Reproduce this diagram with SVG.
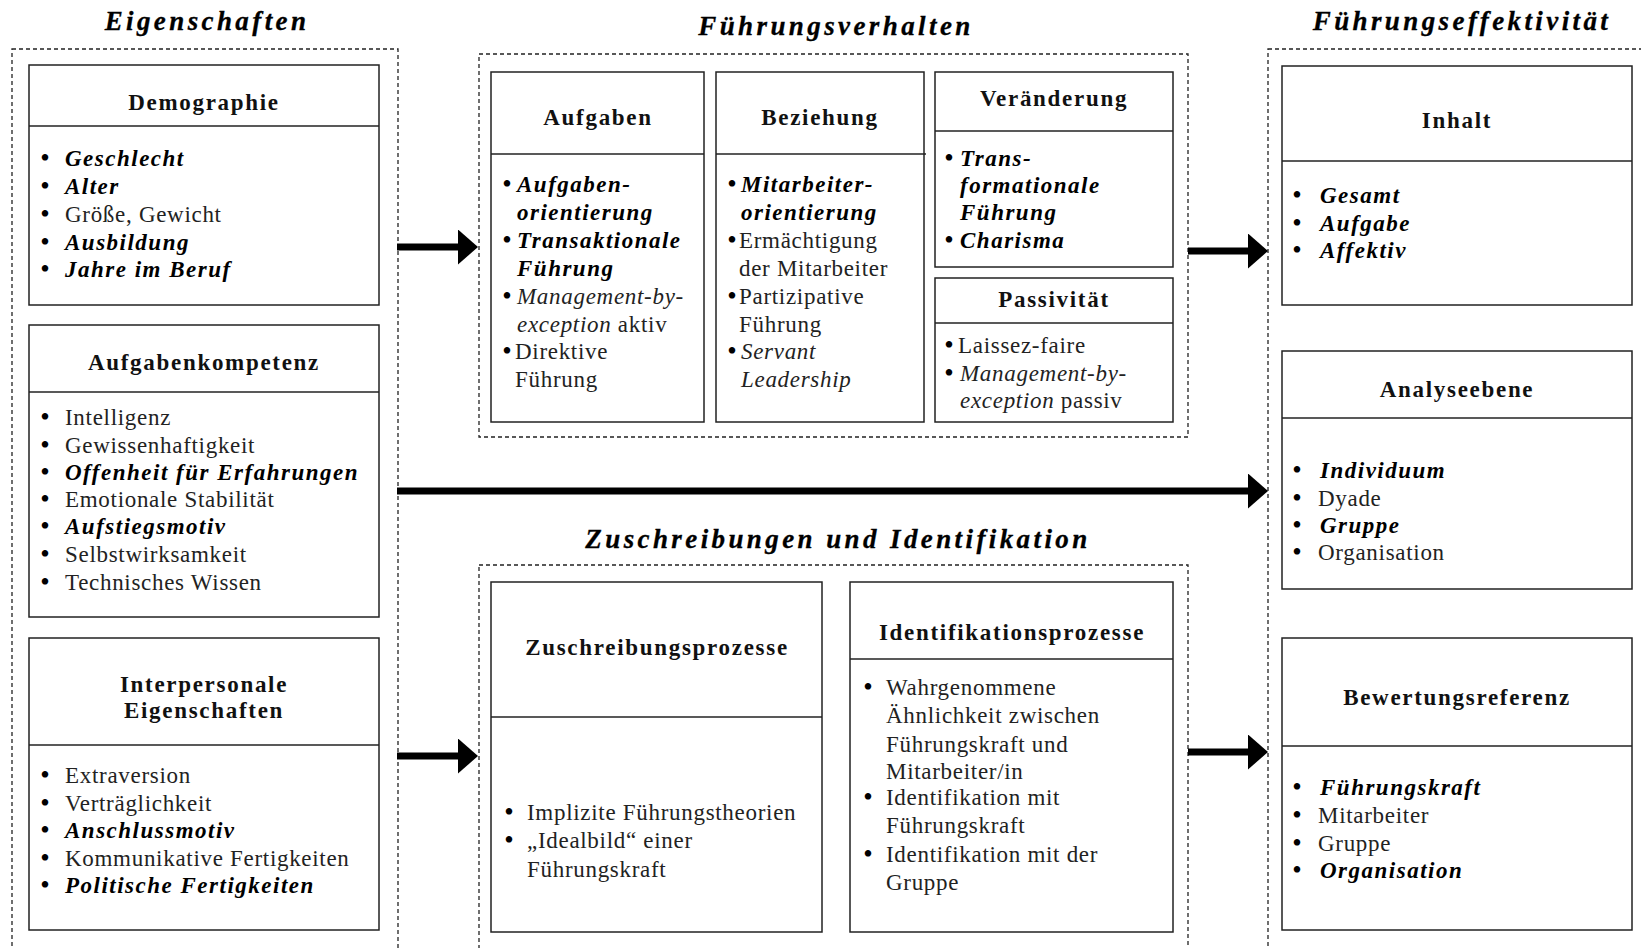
<svg xmlns="http://www.w3.org/2000/svg" width="1641" height="948" viewBox="0 0 1641 948">
<style>
  .bg { fill: #ffffff; }
  .frame { fill: none; stroke: #222; stroke-width: 1.3; stroke-dasharray: 4 3; }
  .box { fill: #ffffff; stroke: #222; stroke-width: 1.5; }
  .div { stroke: #222; stroke-width: 1.5; }
  .sec { font-family: "Liberation Serif", serif; font-size: 27px; font-weight: bold; font-style: italic; letter-spacing: 3.4px; text-anchor: middle; fill: #000; stroke: #000; stroke-width: 0.3; }
  .hd { font-family: "Liberation Serif", serif; font-size: 23px; font-weight: bold; letter-spacing: 1.7px; text-anchor: middle; fill: #111; }
  .t { font-family: "Liberation Serif", serif; font-size: 23px; letter-spacing: 0.7px; fill: #222; }
  .bi { font-weight: bold; font-style: italic; letter-spacing: 1.5px; fill: #000; }
  .i { font-style: italic; }
  .b { font-family: "Liberation Serif", serif; font-size: 27px; text-anchor: middle; fill: #000; }
  .arr { stroke: #000; stroke-width: 7; fill: none; }
</style>
<defs>
  <marker id="head" markerUnits="userSpaceOnUse" markerWidth="20" markerHeight="35" refX="0" refY="17.5" orient="auto">
    <path d="M0,0 L20,17.5 L0,35 Z" fill="#000"/>
  </marker>
</defs>
<rect class="bg" x="0" y="0" width="1641" height="948"/>

<g id="frames">
  <rect class="frame" x="12" y="49" width="386" height="920"/>
  <rect class="frame" x="479" y="54" width="709" height="383"/>
  <rect class="frame" x="479" y="565" width="709" height="400"/>
  <rect class="frame" x="1268" y="49" width="400" height="920"/>
</g>

<g id="section-titles">
  <text class="sec" x="207" y="30">Eigenschaften</text>
  <text class="sec" x="836" y="35">Führungsverhalten</text>
  <text class="sec" x="838" y="548">Zuschreibungen und Identifikation</text>
  <text class="sec" x="1462" y="30">Führungseffektivität</text>
</g>

<g id="demographie">
  <rect class="box" x="29" y="65" width="350" height="240"/>
  <line class="div" x1="29" y1="126" x2="379" y2="126"/>
  <text class="hd" x="204" y="110">Demographie</text>
  <text class="b" x="45" y="167">•</text><text class="t" x="65" y="166"><tspan class="bi">Geschlecht</tspan></text>
  <text class="b" x="45" y="195">•</text><text class="t" x="65" y="194"><tspan class="bi">Alter</tspan></text>
  <text class="b" x="45" y="223">•</text><text class="t" x="65" y="222">Größe, Gewicht</text>
  <text class="b" x="45" y="251">•</text><text class="t" x="65" y="250"><tspan class="bi">Ausbildung</tspan></text>
  <text class="b" x="45" y="278">•</text><text class="t" x="65" y="277"><tspan class="bi">Jahre im Beruf</tspan></text>
</g>

<g id="aufgabenkompetenz">
  <rect class="box" x="29" y="325" width="350" height="292"/>
  <line class="div" x1="29" y1="392" x2="379" y2="392"/>
  <text class="hd" x="204" y="370">Aufgabenkompetenz</text>
  <text class="b" x="45" y="426">•</text><text class="t" x="65" y="425">Intelligenz</text>
  <text class="b" x="45" y="453.5">•</text><text class="t" x="65" y="452.5">Gewissenhaftigkeit</text>
  <text class="b" x="45" y="481">•</text><text class="t" x="65" y="480"><tspan class="bi">Offenheit für Erfahrungen</tspan></text>
  <text class="b" x="45" y="508">•</text><text class="t" x="65" y="507">Emotionale Stabilität</text>
  <text class="b" x="45" y="535">•</text><text class="t" x="65" y="534"><tspan class="bi">Aufstiegsmotiv</tspan></text>
  <text class="b" x="45" y="563">•</text><text class="t" x="65" y="562">Selbstwirksamkeit</text>
  <text class="b" x="45" y="591">•</text><text class="t" x="65" y="590">Technisches Wissen</text>
</g>

<g id="interpersonale">
  <rect class="box" x="29" y="638" width="350" height="292"/>
  <line class="div" x1="29" y1="745" x2="379" y2="745"/>
  <text class="hd" x="204" y="692">Interpersonale</text>
  <text class="hd" x="204" y="718">Eigenschaften</text>
  <text class="b" x="45" y="784">•</text><text class="t" x="65" y="783">Extraversion</text>
  <text class="b" x="45" y="812">•</text><text class="t" x="65" y="811">Verträglichkeit</text>
  <text class="b" x="45" y="839">•</text><text class="t" x="65" y="838"><tspan class="bi">Anschlussmotiv</tspan></text>
  <text class="b" x="45" y="867">•</text><text class="t" x="65" y="866">Kommunikative Fertigkeiten</text>
  <text class="b" x="45" y="894">•</text><text class="t" x="65" y="893"><tspan class="bi">Politische Fertigkeiten</tspan></text>
</g>

<g id="aufgaben">
  <rect class="box" x="491" y="72" width="213" height="350"/>
  <line class="div" x1="491" y1="154" x2="704" y2="154"/>
  <text class="hd" x="598" y="125">Aufgaben</text>
  <text class="b" x="507" y="193">•</text><text class="t" x="517" y="192"><tspan class="bi">Aufgaben-</tspan></text>
  <text class="t" x="517" y="220"><tspan class="bi">orientierung</tspan></text>
  <text class="b" x="507" y="249">•</text><text class="t" x="517" y="248"><tspan class="bi">Transaktionale</tspan></text>
  <text class="t" x="517" y="276"><tspan class="bi">Führung</tspan></text>
  <text class="b" x="507" y="305">•</text><text class="t" x="517" y="304"><tspan class="i">Management-by-</tspan></text>
  <text class="t" x="517" y="332"><tspan class="i">exception</tspan> aktiv</text>
  <text class="b" x="507" y="360">•</text><text class="t" x="515" y="359">Direktive</text>
  <text class="t" x="515" y="387">Führung</text>
</g>

<g id="beziehung">
  <rect class="box" x="716" y="72" width="208" height="350"/>
  <line class="div" x1="716" y1="154" x2="926" y2="154"/>
  <text class="hd" x="820" y="125">Beziehung</text>
  <text class="b" x="732" y="193">•</text><text class="t" x="741" y="192"><tspan class="bi">Mitarbeiter-</tspan></text>
  <text class="t" x="741" y="220"><tspan class="bi">orientierung</tspan></text>
  <text class="b" x="732" y="249">•</text><text class="t" x="739" y="248">Ermächtigung</text>
  <text class="t" x="739" y="276">der Mitarbeiter</text>
  <text class="b" x="732" y="305">•</text><text class="t" x="739" y="304">Partizipative</text>
  <text class="t" x="739" y="332">Führung</text>
  <text class="b" x="732" y="360">•</text><text class="t" x="741" y="359"><tspan class="i">Servant</tspan></text>
  <text class="t" x="741" y="387"><tspan class="i">Leadership</tspan></text>
</g>

<g id="veraenderung">
  <rect class="box" x="935" y="72" width="238" height="195"/>
  <line class="div" x1="935" y1="131" x2="1173" y2="131"/>
  <text class="hd" x="1054" y="106">Veränderung</text>
  <text class="b" x="949" y="167">•</text><text class="t" x="960" y="166"><tspan class="bi">Trans-</tspan></text>
  <text class="t" x="960" y="193"><tspan class="bi">formationale</tspan></text>
  <text class="t" x="960" y="220"><tspan class="bi">Führung</tspan></text>
  <text class="b" x="949" y="249">•</text><text class="t" x="960" y="248"><tspan class="bi">Charisma</tspan></text>
</g>

<g id="passivitaet">
  <rect class="box" x="935" y="278" width="238" height="144"/>
  <line class="div" x1="935" y1="323" x2="1173" y2="323"/>
  <text class="hd" x="1054" y="307">Passivität</text>
  <text class="b" x="949" y="354">•</text><text class="t" x="958" y="353">Laissez-faire</text>
  <text class="b" x="949" y="382">•</text><text class="t" x="960" y="381"><tspan class="i">Management-by-</tspan></text>
  <text class="t" x="960" y="408"><tspan class="i">exception</tspan> passiv</text>
</g>

<g id="zuschreibungsprozesse">
  <rect class="box" x="491" y="582" width="331" height="350"/>
  <line class="div" x1="491" y1="717" x2="822" y2="717"/>
  <text class="hd" x="657" y="655">Zuschreibungsprozesse</text>
  <text class="b" x="509" y="821">•</text><text class="t" x="527" y="820">Implizite Führungstheorien</text>
  <text class="b" x="509" y="849">•</text><text class="t" x="527" y="848">„Idealbild“ einer</text>
  <text class="t" x="527" y="877">Führungskraft</text>
</g>

<g id="identifikationsprozesse">
  <rect class="box" x="850" y="582" width="323" height="350"/>
  <line class="div" x1="850" y1="659" x2="1173" y2="659"/>
  <text class="hd" x="1012" y="640">Identifikationsprozesse</text>
  <text class="b" x="868" y="696">•</text><text class="t" x="886" y="695">Wahrgenommene</text>
  <text class="t" x="886" y="723">Ähnlichkeit zwischen</text>
  <text class="t" x="886" y="752">Führungskraft und</text>
  <text class="t" x="886" y="779">Mitarbeiter/in</text>
  <text class="b" x="868" y="806">•</text><text class="t" x="886" y="805">Identifikation mit</text>
  <text class="t" x="886" y="833">Führungskraft</text>
  <text class="b" x="868" y="863">•</text><text class="t" x="886" y="862">Identifikation mit der</text>
  <text class="t" x="886" y="890">Gruppe</text>
</g>

<g id="inhalt">
  <rect class="box" x="1282" y="66" width="350" height="239"/>
  <line class="div" x1="1282" y1="161" x2="1632" y2="161"/>
  <text class="hd" x="1457" y="128">Inhalt</text>
  <text class="b" x="1297" y="204">•</text><text class="t" x="1320" y="203"><tspan class="bi">Gesamt</tspan></text>
  <text class="b" x="1297" y="232">•</text><text class="t" x="1320" y="231"><tspan class="bi">Aufgabe</tspan></text>
  <text class="b" x="1297" y="259">•</text><text class="t" x="1320" y="258"><tspan class="bi">Affektiv</tspan></text>
</g>

<g id="analyseebene">
  <rect class="box" x="1282" y="351" width="350" height="238"/>
  <line class="div" x1="1282" y1="418" x2="1632" y2="418"/>
  <text class="hd" x="1457" y="397">Analyseebene</text>
  <text class="b" x="1297" y="479">•</text><text class="t" x="1320" y="478"><tspan class="bi">Individuum</tspan></text>
  <text class="b" x="1297" y="507">•</text><text class="t" x="1318" y="506">Dyade</text>
  <text class="b" x="1297" y="534">•</text><text class="t" x="1320" y="533"><tspan class="bi">Gruppe</tspan></text>
  <text class="b" x="1297" y="561">•</text><text class="t" x="1318" y="560">Organisation</text>
</g>

<g id="bewertungsreferenz">
  <rect class="box" x="1282" y="638" width="350" height="292"/>
  <line class="div" x1="1282" y1="746" x2="1632" y2="746"/>
  <text class="hd" x="1457" y="705">Bewertungsreferenz</text>
  <text class="b" x="1297" y="796">•</text><text class="t" x="1320" y="795"><tspan class="bi">Führungskraft</tspan></text>
  <text class="b" x="1297" y="824">•</text><text class="t" x="1318" y="823">Mitarbeiter</text>
  <text class="b" x="1297" y="852">•</text><text class="t" x="1318" y="851">Gruppe</text>
  <text class="b" x="1297" y="879">•</text><text class="t" x="1320" y="878"><tspan class="bi">Organisation</tspan></text>
</g>

<g id="connectors">
  <line class="arr" x1="397" y1="247" x2="458" y2="247" marker-end="url(#head)"/>
  <line class="arr" x1="397" y1="491" x2="1248" y2="491" marker-end="url(#head)"/>
  <line class="arr" x1="397" y1="756" x2="458" y2="756" marker-end="url(#head)"/>
  <line class="arr" x1="1188" y1="251" x2="1248" y2="251" marker-end="url(#head)"/>
  <line class="arr" x1="1188" y1="752" x2="1248" y2="752" marker-end="url(#head)"/>
</g>
</svg>
